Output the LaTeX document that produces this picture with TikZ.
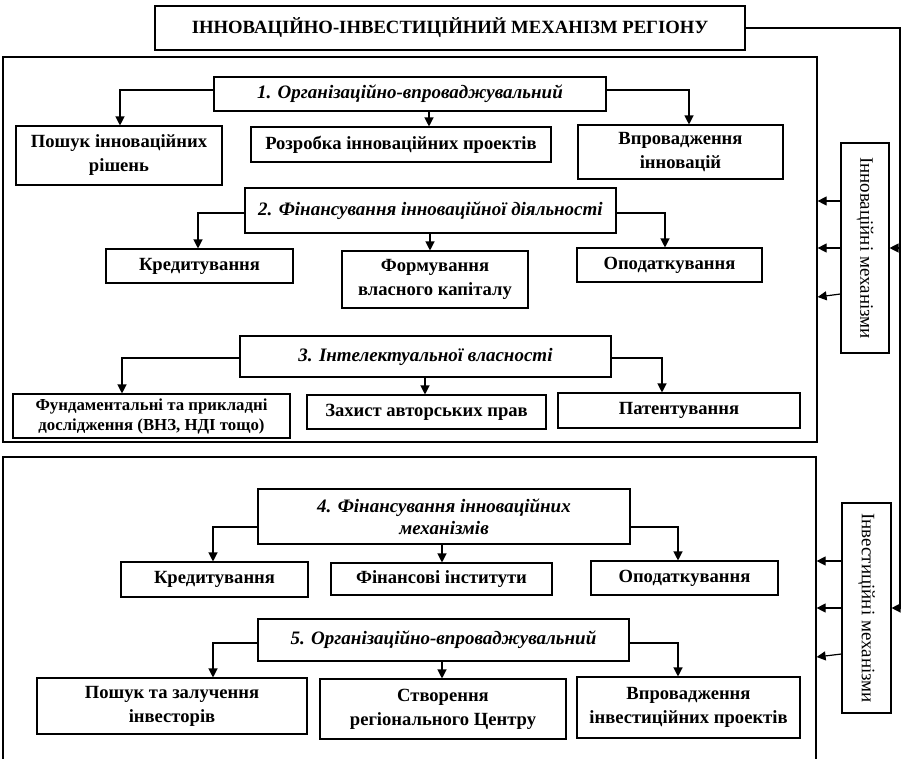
\documentclass[tikz,border=0pt]{standalone}
\usepackage{fontspec}
\setmainfont{Liberation Serif}
\usetikzlibrary{arrows.meta,shadows}
\tikzset{
  bx/.style={draw, line width=1.1pt, fill=white, inner sep=1pt, align=center,
    drop shadow={shadow xshift=1.3pt, shadow yshift=-1.3pt, fill=black, opacity=1}},
  kid/.style={bx, font=\bfseries\fontsize{18.6}{24}\selectfont},
  par/.style={bx, font=\bfseries\itshape\fontsize{19}{22.5}\selectfont},
  outer/.style={draw, line width=1.2pt},
  side/.style={draw, line width=1.1pt, fill=white,
    drop shadow={shadow xshift=1.2pt, shadow yshift=-1.2pt, fill=black, opacity=1}},
  vtxt/.style={rotate=-90, font=\fontsize{19}{22}\selectfont},
  arr/.style={line width=1.2pt, -{Triangle[length=9pt,width=9pt]}},
  ln/.style={line width=1.2pt}
}
\begin{document}
\begin{tikzpicture}[x=1pt,y=-1pt]
\useasboundingbox (0,0) rectangle (902,758);
\clip (0,0) rectangle (902,758);
% outer frames
\node[outer, minimum width=814pt, minimum height=385pt, inner sep=0pt] (o1) at (410,249.5) {};
\node[outer, minimum width=813pt, minimum height=340pt, inner sep=0pt] (o2) at (409.5,627) {};
% title
\node[bx, minimum width=590pt, minimum height=44pt, font=\bfseries\fontsize{18.7}{22}\selectfont] (title) at (450,28) {ІННОВАЦІЙНО-ІНВЕСТИЦІЙНИЙ МЕХАНІЗМ РЕГІОНУ};
% group 1
\node[par, minimum width=392pt, minimum height=34pt] (b1) at (410,94) {1. Організаційно-впроваджувальний};
\node[kid, minimum width=206pt, minimum height=59pt] (c11) at (119,155.5) {Пошук інноваційних\\рішень};
\node[kid, minimum width=300pt, minimum height=35pt] (c12) at (401,144.5) {Розробка інноваційних проектів};
\node[kid, minimum width=205pt, minimum height=54pt] (c13) at (680.5,152) {Впровадження\\інновацій};
% group 2
\node[par, minimum width=371pt, minimum height=45pt] (b2) at (430.5,210.5) {2. Фінансування інноваційної діяльності};
\node[kid, minimum width=187pt, minimum height=34pt] (c21) at (199.5,266) {Кредитування};
\node[kid, minimum width=186pt, minimum height=57pt] (c22) at (435,279.5) {Формування\\власного капіталу};
\node[kid, minimum width=185pt, minimum height=34pt] (c23) at (669.5,265) {Оподаткування};
% group 3
\node[par, minimum width=371pt, minimum height=41pt] (b3) at (425.5,356.5) {3. Інтелектуальної власності};
\node[kid, minimum width=277pt, minimum height=44pt, font=\bfseries\fontsize{16.8}{20}\selectfont] (c31) at (151.5,416) {Фундаментальні та прикладні\\дослідження (ВНЗ, НДІ тощо)};
\node[kid, minimum width=239pt, minimum height=34pt] (c32) at (426.5,412) {Захист авторських прав};
\node[kid, minimum width=242pt, minimum height=35pt] (c33) at (679,410.5) {Патентування};
% group 4
\node[par, minimum width=372pt, minimum height=55pt] (b4) at (444,516.5) {4. Фінансування інноваційних\\механізмів};
\node[kid, minimum width=187pt, minimum height=35pt] (c41) at (214.5,579.5) {Кредитування};
\node[kid, minimum width=221pt, minimum height=32pt] (c42) at (441.5,579) {Фінансові інститути};
\node[kid, minimum width=187pt, minimum height=34pt] (c43) at (684.5,578) {Оподаткування};
% group 5
\node[par, minimum width=371pt, minimum height=42pt] (b5) at (443.5,640) {5. Організаційно-впроваджувальний};
\node[kid, minimum width=270pt, minimum height=56pt] (c51) at (172,706) {Пошук та залучення\\інвесторів};
\node[kid, minimum width=246pt, minimum height=60pt] (c52) at (443,709) {Створення\\регіонального Центру};
\node[kid, minimum width=223pt, minimum height=61pt] (c53) at (688.5,707.5) {Впровадження\\інвестиційних проектів};
% side boxes
\node[side, minimum width=48pt, minimum height=210pt, inner sep=0pt] (inn) at (865,248) {};
\node[vtxt] (innt) at (inn) {Інноваційні механізми};
\node[side, minimum width=49pt, minimum height=210pt, inner sep=0pt] (inv) at (866.5,608) {};
\node[vtxt] (invt) at (inv) {Інвестиційні механізми};
\coordinate (rc) at (900,28);
% right feed line
\draw[ln] (title.east) -- (rc) -- (rc |- inv.east);
\draw[arr] (rc |- inv.east) -- (inv.east);
\draw[arr] (rc |- inn.east) -- (inn.east);
% side arrows
\draw[arr] ([yshift=47pt]inn.west) -- ([yshift=47pt]inn.west -| o1.east);
\draw[arr] (inn.west) -- (inn.west -| o1.east);
\draw[arr] ([yshift=-46pt]inn.west) -- ([yshift=-49pt]inn.west -| o1.east);
\draw[arr] ([yshift=47pt]inv.west) -- ([yshift=47pt]inv.west -| o2.east);
\draw[arr] (inv.west) -- (inv.west -| o2.east);
\draw[arr] ([yshift=-46pt]inv.west) -- ([yshift=-49pt]inv.west -| o2.east);
% group connectors
\draw[arr] ([yshift=4pt]b1.west) -| ([xshift=1pt]c11.north);
\draw[arr] ([xshift=28pt]c12.north |- b1.south) -- ([xshift=28pt]c12.north);
\draw[arr] ([yshift=4pt]b1.east) -| ([xshift=8.5pt]c13.north);
\draw[arr] ([yshift=-2.5pt]b2.west) -| ([xshift=-1.5pt]c21.north);
\draw[arr] ([xshift=-5pt]c22.north |- b2.south) -- ([xshift=-5pt]c22.north);
\draw[arr] ([yshift=-2.5pt]b2.east) -| ([xshift=-4.5pt]c23.north);
\draw[arr] ([yshift=-1.5pt]b3.west) -| ([xshift=-29.5pt]c31.north);
\draw[arr] ([xshift=-1.5pt]c32.north |- b3.south) -- ([xshift=-1.5pt]c32.north);
\draw[arr] ([yshift=-1.5pt]b3.east) -| ([xshift=-17pt]c33.north);
\draw[arr] ([yshift=-10.5pt]b4.west) -| ([xshift=-1.5pt]c41.north);
\draw[arr] ([xshift=0.5pt]c42.north |- b4.south) -- ([xshift=0.5pt]c42.north);
\draw[arr] ([yshift=-10.5pt]b4.east) -| ([xshift=-6.5pt]c43.north);
\draw[arr] ([yshift=-3pt]b5.west) -| ([xshift=41pt]c51.north);
\draw[arr] ([xshift=-1pt]c52.north |- b5.south) -- ([xshift=-1pt]c52.north);
\draw[arr] ([yshift=-3pt]b5.east) -| ([xshift=-10.5pt]c53.north);
\end{tikzpicture}
\end{document}
